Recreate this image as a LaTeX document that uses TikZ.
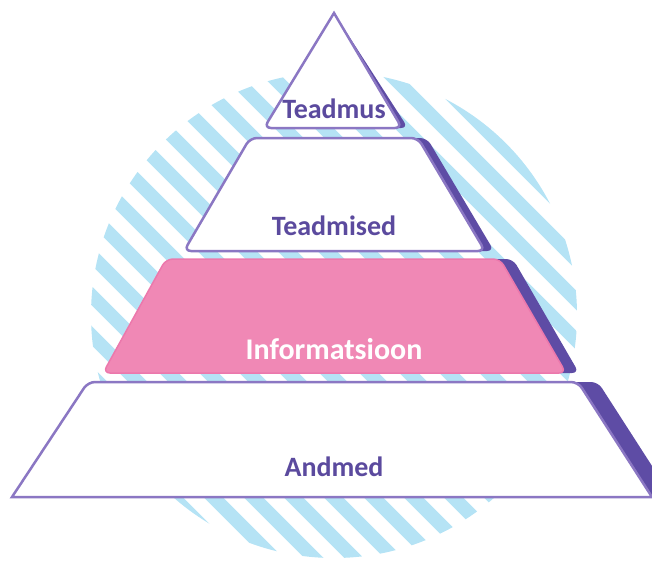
\documentclass[tikz,border=0pt]{standalone}
\usepackage{fontspec}
\setmainfont{Carlito}
\usetikzlibrary{positioning}
\definecolor{lineviolet}{HTML}{8B77C3}
\definecolor{shadowviolet}{HTML}{5E4CA5}
\definecolor{textviolet}{HTML}{5B4A9E}
\definecolor{infopink}{HTML}{F088B5}
\definecolor{infoedge}{HTML}{EC78AC}
\definecolor{stripeblue}{HTML}{B5E3F5}

\begin{document}
\begin{tikzpicture}[x=1pt,y=-1pt, level/.style={line width=2.5pt, rounded corners=7pt}, shade/.style={fill=shadowviolet, rounded corners=7pt}, lvltext/.style={font=\bfseries\fontsize{28}{30}\selectfont, text=textviolet, anchor=base}]
\useasboundingbox (0,0) rectangle (652,563);
% striped disc behind the pyramid
\begin{scope}
	\clip (334,315) circle (243pt);
	\foreach \k in {-14,...,14} {
		\draw[stripeblue, line width=13.5pt] (351+40*\k-330,315-330) -- (351+40*\k+330,315+330);
	}
\end{scope}
% top triangle
\path[shade] (339,128) -- (270,128) [sharp corners] -- (334,13) [rounded corners=7pt] -- (408,128) -- cycle;
\draw[level, draw=lineviolet, fill=white] (333,128) -- (264,128) [sharp corners] -- (334,13) [rounded corners=7pt] -- (402,128) -- cycle;
% middle layers
\foreach \yt/\yb/\tl/\tr/\bl/\br/\sh/\edge/\inner/\lw in {138/251/250/418/184/485/9/lineviolet/white/2.5, 259/373/166/500/103/566/13/infoedge/infopink/1.5} {
	\path[shade] (\bl+\sh,\yb) -- (\tl+\sh,\yt) -- (\tr+\sh,\yt) -- (\br+\sh,\yb) -- cycle;
	\draw[level, draw=\edge, fill=\inner, line width=\lw pt] (\bl,\yb) -- (\tl,\yt) -- (\tr,\yt) -- (\br,\yb) -- cycle;
}
% bottom layer
\path[shade] (32,497) [rounded corners=7pt] -- (108,382) -- (598,382) [sharp corners] -- (672,497) -- cycle;
\draw[level, draw=lineviolet, fill=white] (12,497) [rounded corners=7pt] -- (88,382) -- (578,382) [sharp corners] -- (652,497) -- cycle;
% labels
\node[lvltext] (teadmus) at (334,118) {Teadmus};
\node[lvltext] (teadmised) at (334,235) {Teadmised};
\node[lvltext, text=white, font=\bfseries\fontsize{30}{32}\selectfont] (informatsioon) at (334,359) {Informatsioon};
\node[lvltext] (andmed) at (334,476) {Andmed};
\end{tikzpicture}
\end{document}
